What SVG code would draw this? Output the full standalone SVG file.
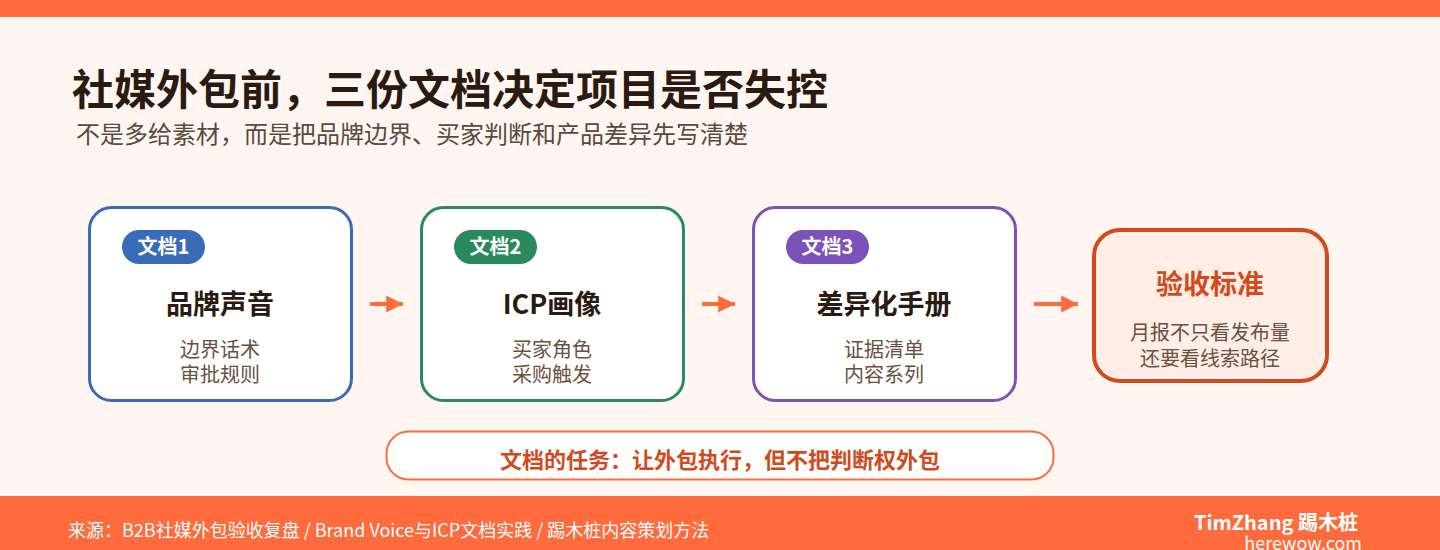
<svg xmlns="http://www.w3.org/2000/svg" width="1440" height="550" viewBox="0 0 1440 550">
<style>
.cjk{font-family:"Noto Sans CJK SC","Noto Sans",sans-serif}
.card{fill:#FFFFFF;stroke-width:3}
.pilltxt{font-weight:700;font-size:20px;fill:#FFFFFF;text-anchor:middle}
.head{font-weight:700;font-size:27px;fill:#2B1A10;text-anchor:middle}
.sub{font-size:20px;fill:#6B5040;text-anchor:middle}
.conn{stroke:#FF6B3D;stroke-width:4;fill:none}
</style>
<defs>
<marker id="ah" viewBox="0 0 10 10" refX="10" refY="5" markerWidth="4.2" markerHeight="4.5" orient="auto" markerUnits="strokeWidth">
<path d="M0,0 L10,5 L0,10 Z" fill="#FF6B3D"/>
</marker>
</defs>
<rect x="0" y="0" width="1440" height="550" fill="#FFF6F2"/>
<rect x="0" y="0" width="1440" height="17" fill="#FF6B3D"/>
<text x="72" y="105" class="cjk" font-size="42" font-weight="700" fill="#2B1A10">社媒外包前，三份文档决定项目是否失控</text>
<text x="76" y="143" class="cjk" font-size="24" fill="#5A4A40">不是多给素材，而是把品牌边界、买家判断和产品差异先写清楚</text>

<g id="doc1">
<rect class="card" x="89.5" y="207.5" width="262" height="193" rx="22" stroke="#3A6BB8"/>
<rect x="122" y="230" width="83" height="34" rx="17" fill="#3A6BB8"/>
<text x="163.5" y="254" class="cjk pilltxt">文档1</text>
<text x="220" y="314" class="cjk head">品牌声音</text>
<text x="220" y="357" class="cjk sub">边界话术</text>
<text x="220" y="382" class="cjk sub">审批规则</text>
</g>
<g id="doc2">
<rect class="card" x="421.5" y="207.5" width="262" height="193" rx="22" stroke="#2A8A5E"/>
<rect x="454" y="230" width="83" height="34" rx="17" fill="#2A8A5E"/>
<text x="495.5" y="254" class="cjk pilltxt">文档2</text>
<text x="552" y="314" class="cjk head">ICP画像</text>
<text x="552" y="357" class="cjk sub">买家角色</text>
<text x="552" y="382" class="cjk sub">采购触发</text>
</g>
<g id="doc3">
<rect class="card" x="753.5" y="207.5" width="262" height="193" rx="22" stroke="#7B52B8"/>
<rect x="786" y="230" width="83" height="34" rx="17" fill="#7B52B8"/>
<text x="827.5" y="254" class="cjk pilltxt">文档3</text>
<text x="884" y="314" class="cjk head">差异化手册</text>
<text x="884" y="357" class="cjk sub">证据清单</text>
<text x="884" y="382" class="cjk sub">内容系列</text>
</g>
<g id="accept">
<rect x="1094" y="230" width="233" height="151" rx="26" fill="#FFEEE6" stroke="#D24A1C" stroke-width="4"/>
<text x="1210" y="294" class="cjk" font-size="27" font-weight="700" fill="#D24A1C" text-anchor="middle">验收标准</text>
<text x="1210" y="340" class="cjk sub">月报不只看发布量</text>
<text x="1210" y="366" class="cjk sub">还要看线索路径</text>
</g>

<g id="connectors">
<line class="conn" x1="370" y1="304" x2="403" y2="304" marker-end="url(#ah)"/>
<line class="conn" x1="702" y1="304" x2="735" y2="304" marker-end="url(#ah)"/>
<line class="conn" x1="1034" y1="304" x2="1078" y2="304" marker-end="url(#ah)"/>
</g>

<g id="note">
<rect x="386.5" y="431.5" width="667" height="48" rx="22" fill="#FFFFFF" stroke="#FF6B3D" stroke-width="2"/>
<text x="720" y="468" class="cjk" font-size="22" font-weight="700" fill="#D24A1C" text-anchor="middle">文档的任务：让外包执行，但不把判断权外包</text>
</g>

<rect x="0" y="496" width="1440" height="54" fill="#FF6B3D"/>
<text x="68" y="537" class="cjk" font-size="18" fill="#FFFFFF">来源：B2B社媒外包验收复盘 / Brand Voice与ICP文档实践 / 踢木桩内容策划方法</text>
<text x="1358" y="530" class="cjk" font-size="20" font-weight="700" fill="#FFFFFF" text-anchor="end">TimZhang 踢木桩</text>
<text x="1362" y="550" class="cjk" font-size="18" fill="#FFFFFF" text-anchor="end">herewow.com</text>
</svg>
